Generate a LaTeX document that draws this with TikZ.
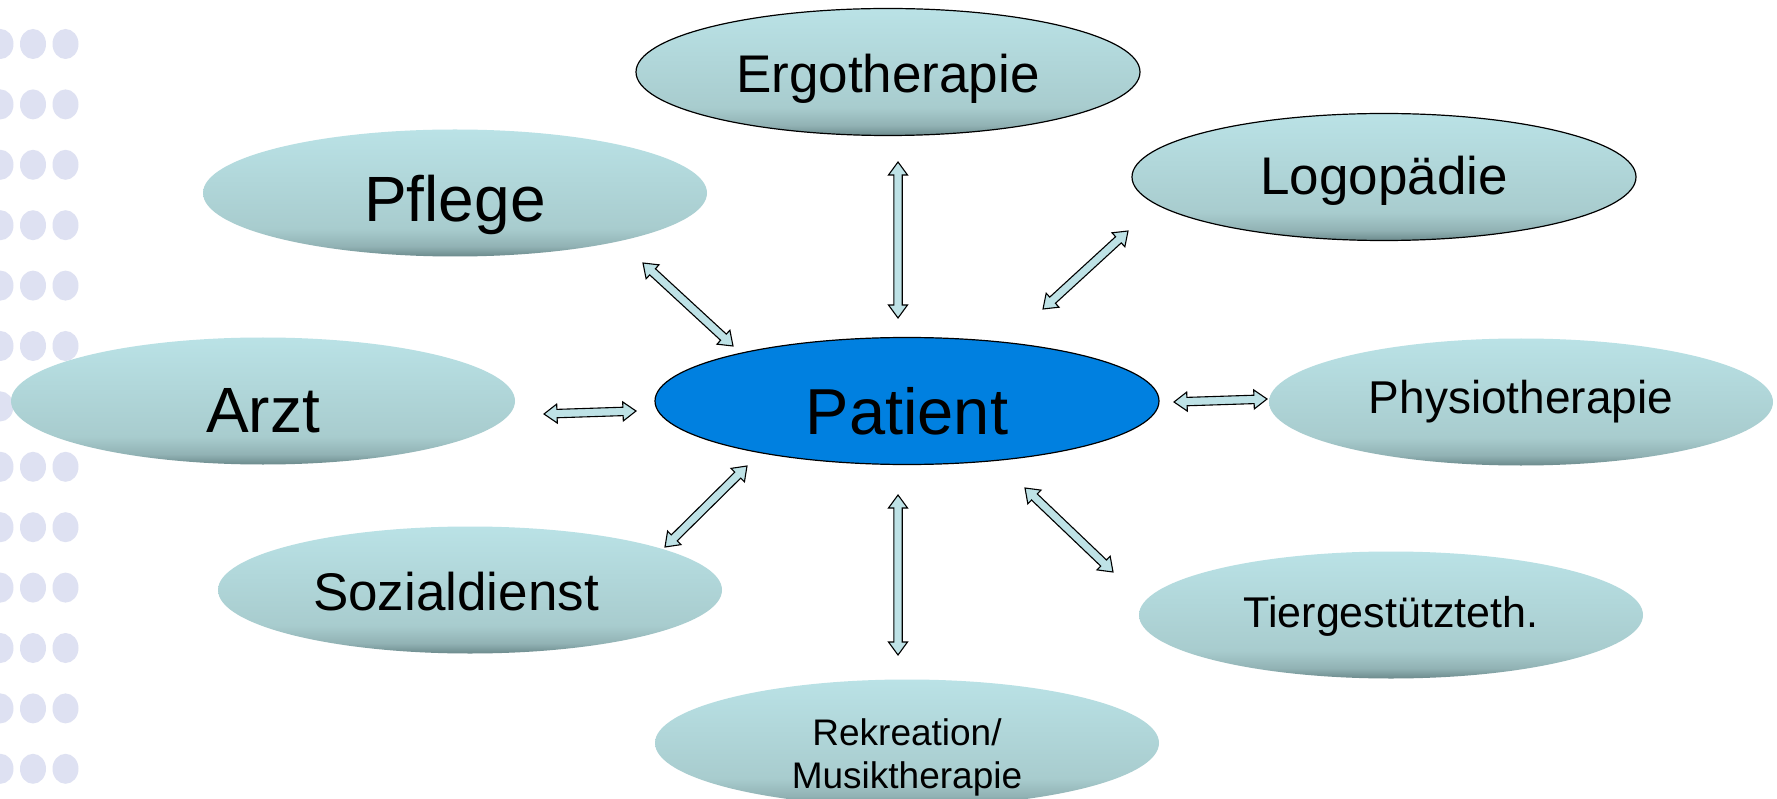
\documentclass[tikz,border=0pt]{standalone}
\usepackage{fontspec}
\setmainfont{Liberation Sans}
\usetikzlibrary{calc,shapes.geometric}
\definecolor{tealD}{RGB}{108,138,140}
\definecolor{tealM}{RGB}{145,178,180}
\definecolor{tealM2}{RGB}{168,204,206}
\definecolor{tealL}{RGB}{186,226,230}
\definecolor{patblue}{RGB}{0,128,224}
\definecolor{dotcol}{RGB}{222,225,242}
\definecolor{arrfillc}{RGB}{190,226,230}
\pgfdeclareverticalshading{tealsh}{100bp}{color(0bp)=(tealD); color(25bp)=(tealD); color(29bp)=(tealM); color(36bp)=(tealM2); color(75bp)=(tealL); color(100bp)=(tealL)}
\def\arrHL{13pt}
\def\arrHW{9.5pt}
\def\arrSW{4.2pt}
\newcommand\blockarrow[2]{%
  \draw[arrstyle] (#1)
   -- ($(#1)!\arrHL!(#2)!\arrHW!90:(#2)$)
   -- ($(#1)!\arrHL!(#2)!\arrSW!90:(#2)$)
   -- ($(#2)!\arrHL!(#1)!\arrSW!-90:(#1)$)
   -- ($(#2)!\arrHL!(#1)!\arrHW!-90:(#1)$)
   -- (#2)
   -- ($(#2)!\arrHL!(#1)!\arrHW!90:(#1)$)
   -- ($(#2)!\arrHL!(#1)!\arrSW!90:(#1)$)
   -- ($(#1)!\arrHL!(#2)!\arrSW!-90:(#2)$)
   -- ($(#1)!\arrHL!(#2)!\arrHW!-90:(#2)$)
   -- cycle;}
\tikzset{
  bubble/.style={ellipse, minimum width=504pt, minimum height=127pt, inner sep=0pt, shading=tealsh, text=black, text depth=0pt},
  bordered/.style={draw=black, line width=1.2pt},
  arrstyle/.style={fill=arrfillc, draw=black, line width=1.1pt, line join=miter},
  dotstyle/.style={fill=dotcol, draw=none},
  fsz/.style={font=\fontsize{#1}{#1}\selectfont},
}
\begin{document}
\begin{tikzpicture}[x=1pt,y=-1pt]
\useasboundingbox (0,0) rectangle (1777,799);
\fill[white] (0,0) rectangle (1777,799);
% background dots
\foreach \r in {0,...,12}{
  \foreach \c in {0,1,2}{
    \fill[dotstyle] ({0.5+32.5*\c},{44+60.4*\r}) ellipse [x radius=13pt, y radius=15pt];
  }
}
% nodes (text height = twice the baseline offset below the centre)
\node[bubble, bordered, fsz=53, text height=42pt] (ergo) at (888,72) {Ergotherapie};
\node[bubble, fsz=64, text height=58pt] (pflege) at (455,193) {Pflege};
\node[bubble, bordered, fsz=53, text height=36pt] (logo) at (1384,177) {Logopädie};
\node[bubble, fsz=64, text height=62pt] (arzt) at (263,401) {Arzt};
\node[ellipse, minimum width=504pt, minimum height=127pt, inner sep=0pt, fill=patblue, draw=black, line width=1.2pt, fsz=65, text depth=0pt, text height=66pt] (patient) at (907,401) {Patient};
\node[bubble, fsz=46, text height=23pt] (physio) at (1521,402) {Physiotherapie};
\node[bubble, fsz=53, text height=40pt] (sozial) at (470,590) {Sozialdienst\hspace*{28pt}};
\node[bubble, fsz=43, text height=24pt] (tier) at (1391,615) {Tiergestützteth.};
\node[bubble] (rekr) at (907,743) {};
\node[fsz=37, anchor=base, inner sep=0pt] (rekrA) at ($(rekr.center)+(0,2)$) {Rekreation/};
\node[fsz=37, anchor=base, inner sep=0pt] (rekrB) at ($(rekr.center)+(0,45)$) {Musiktherapie};
% connector end points
\coordinate (c1a) at (643,263); \coordinate (c1b) at (733,346);
\coordinate (c2a) at (898,162); \coordinate (c2b) at (898,318);
\coordinate (c3a) at (1128,231); \coordinate (c3b) at (1043,309);
\coordinate (c4a) at (544,414); \coordinate (c4b) at (636,411);
\coordinate (c5a) at (1174,402); \coordinate (c5b) at (1267,399);
\coordinate (c6a) at (665,547); \coordinate (c6b) at (747,466);
\coordinate (c7a) at (1025,488); \coordinate (c7b) at (1113,572);
\coordinate (c8a) at (898,495); \coordinate (c8b) at (898,655);
\blockarrow{c1a}{c1b}
\blockarrow{c2a}{c2b}
\blockarrow{c3a}{c3b}
\blockarrow{c4a}{c4b}
\blockarrow{c5a}{c5b}
\blockarrow{c6a}{c6b}
\blockarrow{c7a}{c7b}
\blockarrow{c8a}{c8b}
\end{tikzpicture}
\end{document}
